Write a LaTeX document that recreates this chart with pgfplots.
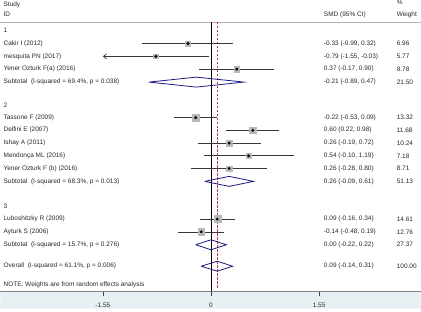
\documentclass[border=0pt]{standalone}
\usepackage{pgfplots}
\pgfplotsset{compat=1.18}
\usepackage{pgfplotstable}
\usepackage{fontspec}
\setmainfont{Liberation Sans}
\usetikzlibrary{arrows.meta}

\definecolor{txt}{RGB}{40,40,40}
\definecolor{cil}{RGB}{55,55,55}
\definecolor{boxg}{RGB}{185,185,185}
\definecolor{dia}{RGB}{26,26,128}
\definecolor{ovred}{RGB}{215,45,75}
\definecolor{bg}{RGB}{230,240,242}
\newcommand\tf{\fontsize{6.5}{7.5}\selectfont\color{txt}}

% y = 297 - pixel row
\pgfplotstableread{
y est lo hi w
248.7 -0.33 -0.99 0.32 6.96
223.0 0.37 -0.17 0.90 8.78
174.3 -0.22 -0.53 0.09 13.32
161.7 0.60 0.22 0.98 11.68
148.9 0.26 -0.19 0.72 10.24
136.1 0.54 -0.10 1.19 7.18
123.4 0.26 -0.28 0.80 8.71
72.7 0.09 -0.16 0.34 14.61
59.9 -0.14 -0.48 0.19 12.76
}\studies

\pgfplotstableread{
y est lo hi w
248.7 -0.33 -0.99 0.32 6.96
235.8 -0.79 -1.55 -0.03 5.77
223.0 0.37 -0.17 0.90 8.78
174.3 -0.22 -0.53 0.09 13.32
161.7 0.60 0.22 0.98 11.68
148.9 0.26 -0.19 0.72 10.24
136.1 0.54 -0.10 1.19 7.18
123.4 0.26 -0.28 0.80 8.71
72.7 0.09 -0.16 0.34 14.61
59.9 -0.14 -0.48 0.19 12.76
}\allstudies

\begin{document}
\begin{tikzpicture}
\begin{axis}[
  width=421pt, height=314pt, scale only axis,
  xmin=-3.0186, xmax=3.0043, ymin=-17, ymax=297,
  axis x line=middle, axis y line=none,
  x axis line style={-, draw=gray, line width=0.9pt},
  xtick={-1.55,0,1.55}, xticklabels={-1.55,0,1.55},
  hide obscured x ticks=false,
  major tick length=0pt,
  xticklabel style={font=\tf, yshift=-8pt},
  axis on top,
  clip=false,
]
% light band below the axis
\addplot[draw=none, fill=bg, forget plot] coordinates {(-3.0186,0) (3.0043,0) (3.0043,-17) (-3.0186,-17) (-3.0186,0)};
% ticks
\addplot[black!75, line width=0.6pt] coordinates {(-1.55,0) (-1.55,-4.5)};
\addplot[black!75, line width=0.6pt] coordinates {(0,0) (0,-4.5)};
\addplot[black!75, line width=0.6pt] coordinates {(1.55,0) (1.55,-4.5)};

% separator and reference lines
\addplot[gray!60, line width=0.6pt] coordinates {(-3.0186,270) (3.0043,270)};
\addplot[black, line width=0.7pt] coordinates {(0,0) (0,270)};
\addplot[draw=ovred, color=ovred, dash pattern=on 2.5pt off 1.5pt, line width=0.7pt] coordinates {(0.09,4) (0.09,270)};

% weight boxes (half-side = 0.93*sqrt(weight))
\addplot[only marks, mark=square*, mark size=2.45pt, boxg] coordinates {(-0.33,248.7)};
\addplot[only marks, mark=square*, mark size=2.23pt, boxg] coordinates {(-0.79,235.8)};
\addplot[only marks, mark=square*, mark size=2.76pt, boxg] coordinates {(0.37,223.0)};
\addplot[only marks, mark=square*, mark size=3.39pt, boxg] coordinates {(-0.22,174.3)};
\addplot[only marks, mark=square*, mark size=3.18pt, boxg] coordinates {(0.60,161.7)};
\addplot[only marks, mark=square*, mark size=2.98pt, boxg] coordinates {(0.26,148.9)};
\addplot[only marks, mark=square*, mark size=2.49pt, boxg] coordinates {(0.54,136.1)};
\addplot[only marks, mark=square*, mark size=2.74pt, boxg] coordinates {(0.26,123.4)};
\addplot[only marks, mark=square*, mark size=3.55pt, boxg] coordinates {(0.09,72.7)};
\addplot[only marks, mark=square*, mark size=3.32pt, boxg] coordinates {(-0.14,59.9)};

% confidence intervals
\addplot[draw=none, mark=none,
  error bars/.cd, x dir=both, x explicit, error mark=none,
  error bar style={cil, line width=0.7pt}]
  table[x=est, y=y, x error plus expr=\thisrow{hi}-\thisrow{est},
        x error minus expr=\thisrow{est}-\thisrow{lo}]{\studies};
\addplot[cil, line width=0.7pt, {Straight Barb[length=3pt,width=5pt]}-]
  coordinates {(-1.55,235.8) (-0.03,235.8)};

% point estimates
\addplot[only marks, mark=*, mark size=1.3pt, black] table[x=est, y=y]{\allstudies};

% diamonds
\addplot[dia, line width=0.8pt] coordinates {(-0.89,210) (-0.21,215) (0.47,210) (-0.21,205) (-0.89,210)};
\addplot[dia, line width=0.8pt] coordinates {(-0.09,110.5) (0.26,115.5) (0.61,110.5) (0.26,105.5) (-0.09,110.5)};
\addplot[dia, line width=0.8pt] coordinates {(-0.22,47) (0.00,52) (0.22,47) (0.00,42) (-0.22,47)};
\addplot[dia, line width=0.8pt] coordinates {(-0.14,25.5) (0.09,30.5) (0.31,25.5) (0.09,20.5) (-0.14,25.5)};

% left text column
\begin{scope}[every node/.style={anchor=west, inner sep=0pt, font=\tf}]
\node at (axis cs:-2.976,287.7) {Study};
\node at (axis cs:-2.976,277.7) {ID};
\node at (axis cs:-2.976,261.5) {1};
\node at (axis cs:-2.976,248.7) {Cakir I (2012)};
\node at (axis cs:-2.976,235.8) {mesquita PN (2017)};
\node at (axis cs:-2.976,223.0) {Yener Ozturk F(a) (2016)};
\node at (axis cs:-2.976,210.0) {Subtotal\ \ (I-squared = 69.4\%, p = 0.038)};
\node at (axis cs:-2.976,187.0) {2};
\node at (axis cs:-2.976,174.3) {Tassone F (2009)};
\node at (axis cs:-2.976,161.7) {Delfini E (2007)};
\node at (axis cs:-2.976,148.9) {Ishay A (2011)};
\node at (axis cs:-2.976,136.1) {Mendonça ML (2016)};
\node at (axis cs:-2.976,123.4) {Yener Ozturk F (b) (2016)};
\node at (axis cs:-2.976,110.5) {Subtotal\ \ (I-squared = 68.3\%, p = 0.013)};
\node at (axis cs:-2.976,85.5) {3};
\node at (axis cs:-2.976,72.7) {Luboshitzky R (2009)};
\node at (axis cs:-2.976,59.9) {Ayturk S (2006)};
\node at (axis cs:-2.976,47.0) {Subtotal\ \ (I-squared = 15.7\%, p = 0.276)};
\node at (axis cs:-2.976,25.5) {Overall\ \ (I-squared = 61.1\%, p = 0.006)};
\node at (axis cs:-2.976,6.5) {NOTE: Weights are from random effects analysis};

% SMD column
\node at (axis cs:1.617,277.7) {SMD (95\% CI)};
\node at (axis cs:1.617,248.7) {-0.33 (-0.99, 0.32)};
\node at (axis cs:1.617,235.8) {-0.79 (-1.55, -0.03)};
\node at (axis cs:1.617,223.0) {0.37 (-0.17, 0.90)};
\node at (axis cs:1.617,210.0) {-0.21 (-0.89, 0.47)};
\node at (axis cs:1.617,174.3) {-0.22 (-0.53, 0.09)};
\node at (axis cs:1.617,161.7) {0.60 (0.22, 0.98)};
\node at (axis cs:1.617,148.9) {0.26 (-0.19, 0.72)};
\node at (axis cs:1.617,136.1) {0.54 (-0.10, 1.19)};
\node at (axis cs:1.617,123.4) {0.26 (-0.28, 0.80)};
\node at (axis cs:1.617,110.5) {0.26 (-0.09, 0.61)};
\node at (axis cs:1.617,72.7) {0.09 (-0.16, 0.34)};
\node at (axis cs:1.617,59.9) {-0.14 (-0.48, 0.19)};
\node at (axis cs:1.617,47.0) {0.00 (-0.22, 0.22)};
\node at (axis cs:1.617,25.5) {0.09 (-0.14, 0.31)};

% Weight column
\node at (axis cs:2.661,290.0) {\%};
\node at (axis cs:2.661,277.7) {Weight};
\node at (axis cs:2.661,248.7) {6.96};
\node at (axis cs:2.661,235.8) {5.77};
\node at (axis cs:2.661,223.0) {8.78};
\node at (axis cs:2.661,210.0) {21.50};
\node at (axis cs:2.661,174.3) {13.32};
\node at (axis cs:2.661,161.7) {11.68};
\node at (axis cs:2.661,148.9) {10.24};
\node at (axis cs:2.661,136.1) {7.18};
\node at (axis cs:2.661,123.4) {8.71};
\node at (axis cs:2.661,110.5) {51.13};
\node at (axis cs:2.661,72.7) {14.61};
\node at (axis cs:2.661,59.9) {12.76};
\node at (axis cs:2.661,47.0) {27.37};
\node at (axis cs:2.661,25.5) {100.00};
\end{scope}
\end{axis}
\end{tikzpicture}
\end{document}
